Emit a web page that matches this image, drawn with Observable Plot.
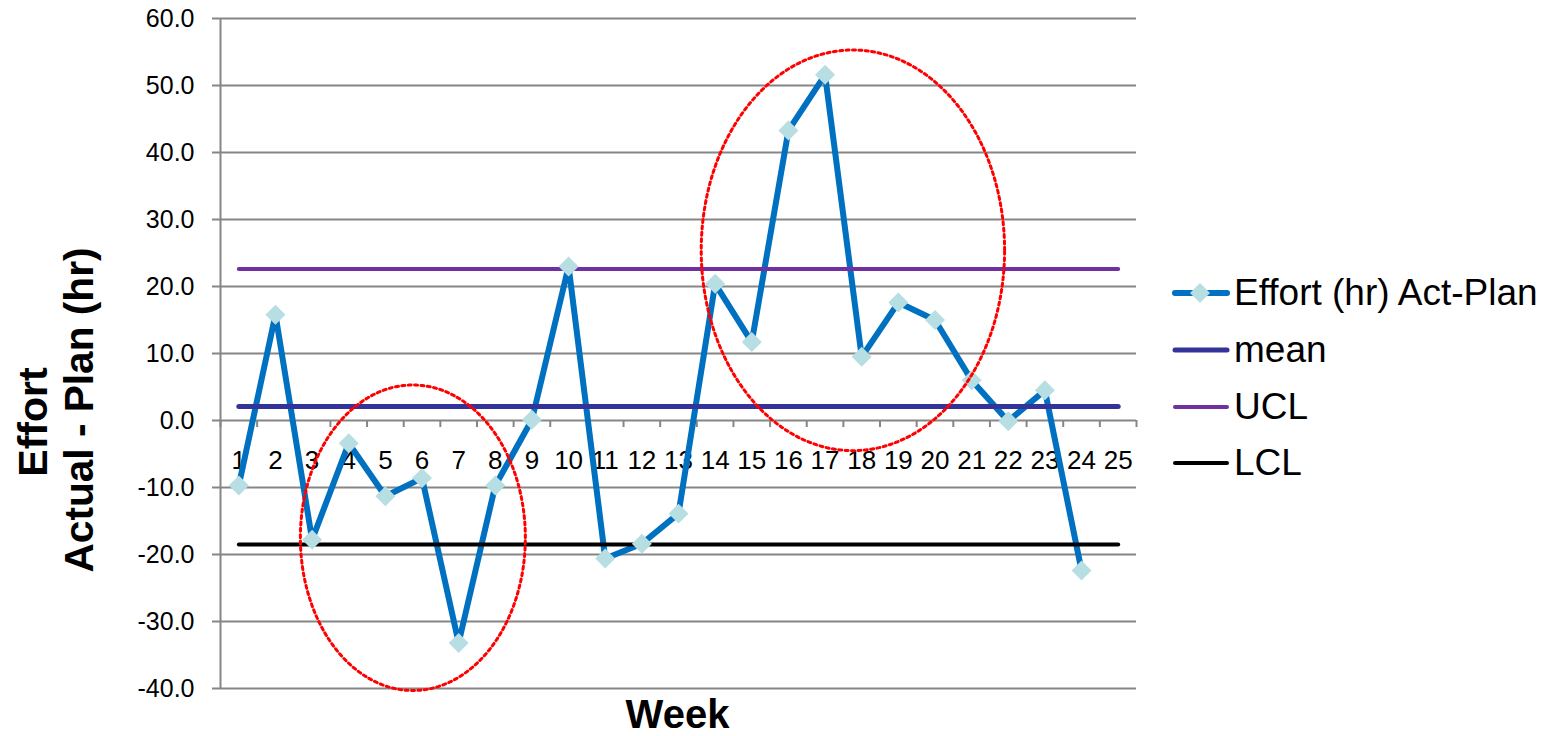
<!DOCTYPE html>
<html><head><meta charset="utf-8">
<script src="https://cdn.jsdelivr.net/npm/d3@7"></script>
<script src="https://cdn.jsdelivr.net/npm/@observablehq/plot@0.6"></script>
<style>
body{margin:0;background:#fff;font-family:"Liberation Sans",Arial,sans-serif}
#wrap{position:relative;width:1549px;height:736px;overflow:hidden}
.leg{position:absolute;left:1172px;height:40px;line-height:40px;font-size:36px;white-space:nowrap;display:flex;align-items:center;color:#000}
.leg svg{display:block;margin-right:4px}
</style></head><body><div id="wrap"></div>
<script>
// ---- data ----
const weeks = [1,2,3,4,5,6,7,8,9,10,11,12,13,14,15,16,17,18,19,20,21,22,23,24,25];
const effort = [-9.7, 15.8, -17.8, -3.4, -11.3, -8.6, -33.2, -9.7, 0.1, 23.0, -20.6, -18.4, -13.9, 20.4, 11.7, 43.3, 51.6, 9.5, 17.6, 15.0, 6.0, -0.1, 4.5, -22.4];
const meanValue = 2.1;
const uclValue = 22.6;
const lclValue = -18.5;
const yTicks = [-40, -30, -20, -10, 0, 10, 20, 30, 40, 50, 60];
const seriesNames = ["Effort (hr) Act-Plan", "mean", "UCL", "LCL"];
const seriesColors = ["#0070C0", "#333399", "#7030A0", "#000000"];
const highlightCenters = [{week: 5.75, value: -17.5}, {week: 17.76, value: 25.4}];
const highlightRadii = [{week: 3.07, value: 22.8}, {week: 4.14, value: 29.9}];

// ---- derived tables ----
const effortData = effort.map((v, i) => ({week: weeks[i], value: v}));
const first = weeks[0], last = weeks[weeks.length - 1];
const controlData = [
  {name: "mean", value: meanValue, color: seriesColors[1], w: 5},
  {name: "UCL", value: uclValue, color: seriesColors[2], w: 4},
  {name: "LCL", value: lclValue, color: seriesColors[3], w: 4}
].flatMap(s => [{...s, week: first}, {...s, week: last}]);
const boundaries = [first - 0.5, ...weeks.map(w => w + 0.5)];
const ellipsePts = highlightCenters.flatMap((c, k) =>
  d3.range(0, 361, 1).map(a => ({
    id: k,
    week: c.week + highlightRadii[k].week * Math.cos(a * Math.PI / 180),
    value: c.value + highlightRadii[k].value * Math.sin(a * Math.PI / 180)
  })));

const FONT = '"Liberation Sans", Arial, sans-serif';

const plot = Plot.plot({
  width: 1549, height: 736,
  marginLeft: 220, marginRight: 413, marginTop: 18, marginBottom: 48,
  x: {type: "linear", domain: [0.5, 25.5], axis: null},
  y: {domain: [-40, 60], axis: null},
  style: {fontFamily: FONT, background: "white", color: "black", overflow: "visible"},
  marks: [
    Plot.ruleY(yTicks, {y: d => d, stroke: "#868686", strokeWidth: 2, insetLeft: -8}),
    Plot.ruleX([first - 0.5], {x: d => d, stroke: "#868686", strokeWidth: 2}),
    Plot.ruleX(boundaries, {x: d => d, y1: 0, y2: -1.05, stroke: "#868686", strokeWidth: 2}),
    Plot.text(yTicks, {x: first - 0.5, y: d => d, text: d => d.toFixed(1), textAnchor: "end", dx: -26, fontSize: 25, fill: "black"}),
    Plot.text(weeks, {x: d => d, y: 0, dy: 40, text: d => String(d), fontSize: 26, fill: "black"}),
    Plot.line(effortData, {x: "week", y: "value", stroke: seriesColors[0], strokeWidth: 6, strokeLinejoin: "round", strokeLinecap: "round"}),
    Plot.line(controlData, {x: "week", y: "value", z: "name", stroke: "color", strokeWidth: "w", strokeLinecap: "round"}),
    Plot.dot(effortData, {x: "week", y: "value", symbol: "diamond2", r: 9, fill: "#B7DEE2", stroke: null}),
    Plot.line(ellipsePts, {x: "week", y: "value", z: "id", stroke: "#FF0000", strokeWidth: 3, strokeDasharray: "3,3.4"})
  ]
});

const svg = d3.select(plot);
svg.append("text").attr("transform", "translate(47,422) rotate(-90)")
  .attr("text-anchor", "middle").attr("font-weight", "bold").attr("font-size", 41)
  .attr("font-family", FONT).attr("fill", "black").text("Effort");
svg.append("text").attr("transform", "translate(93,410) rotate(-90)")
  .attr("text-anchor", "middle").attr("font-weight", "bold").attr("font-size", 41)
  .attr("textLength", 325).attr("lengthAdjust", "spacingAndGlyphs")
  .attr("font-family", FONT).attr("fill", "black").text("Actual - Plan (hr)");
svg.append("text").attr("x", 677.5).attr("y", 728)
  .attr("text-anchor", "middle").attr("font-weight", "bold").attr("font-size", 40)
  .attr("font-family", FONT).attr("fill", "black").text("Week");

const wrap = document.getElementById("wrap");
wrap.appendChild(plot);

// legend
const legendTops = [293, 350, 407, 463];
const legendWidths = [6, 5, 4, 4];
seriesNames.forEach((name, i) => {
  const row = document.createElement("div");
  row.className = "leg";
  row.style.top = (legendTops[i] - 20) + "px";
  const s = d3.create("svg").attr("width", 58).attr("height", 24);
  s.append("line").attr("x1", 3).attr("x2", 55).attr("y1", 12).attr("y2", 12)
    .attr("stroke", seriesColors[i]).attr("stroke-width", legendWidths[i]).attr("stroke-linecap", "round");
  if (i === 0) s.append("path").attr("d", "M28,2L38,12L28,22L18,12Z").attr("fill", "#B7DEE2");
  row.appendChild(s.node());
  const t = document.createElement("span");
  t.textContent = name;
  t.style.fontSize = "37px";
  row.appendChild(t);
  wrap.appendChild(row);
});
</script></body></html>
